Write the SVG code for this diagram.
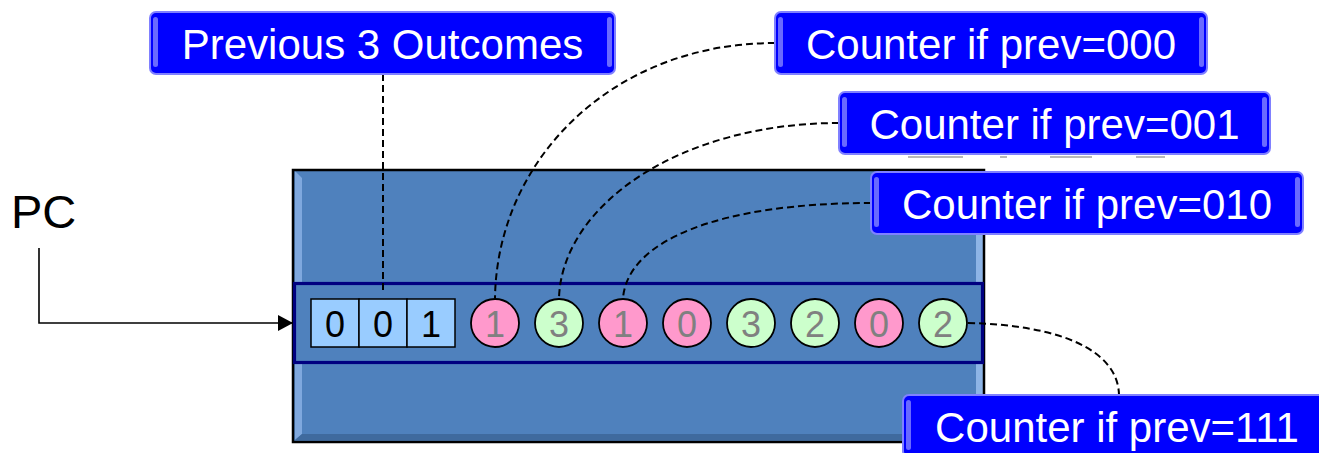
<svg xmlns="http://www.w3.org/2000/svg" width="1319" height="453" viewBox="0 0 1319 453">
  <style>
    .lbl rect.bg { fill: #0000FF; stroke: #8080FF; stroke-width: 2; }
    .lbl rect.hl { fill: #6A6AFF; }
    .lbl text { font-family: "Liberation Sans", Arial, sans-serif; font-size: 42px; fill: #FFFFFF; text-anchor: middle; }
    .bit rect { fill: #99CCFF; stroke: #000000; stroke-width: 1.5; }
    .bit text { font-family: "Liberation Sans", Arial, sans-serif; font-size: 36px; fill: #000000; text-anchor: middle; }
    .ctr circle { stroke: #000000; stroke-width: 1.8; }
    .ctr text { font-family: "Liberation Sans", Arial, sans-serif; font-size: 36px; fill: #808080; text-anchor: middle; }
    .t { fill: #FF99CC; }
    .n { fill: #CCFFCC; }
    .dash { fill: none; stroke: #000000; stroke-width: 2; stroke-dasharray: 7 4; }
  </style>
  <defs>
    <marker id="arr" markerWidth="16" markerHeight="16" refX="15" refY="8" orient="auto" markerUnits="userSpaceOnUse">
      <path d="M0,0 L15,8 L0,16 Z" fill="#000000"/>
    </marker>
  </defs>
  <rect width="1319" height="453" fill="#FFFFFF"/>

  <!-- PHT table block -->
  <g id="table">
    <rect x="293" y="170" width="691" height="272" fill="#4F81BD"/>
    <polygon points="295,171 302,178 302,434 295,440" fill="#7FA8DE"/>
    <polygon points="983,171 976,178 976,434 983,440" fill="#8DB4E6"/>
    <polygon points="295,440 302,434 976,434 983,440" fill="#3F6A9E"/>
    <rect x="293" y="170" width="691" height="272" fill="none" stroke="#000000" stroke-width="2.5"/>
  </g>
  <g id="row">
    <rect x="294.5" y="283.5" width="688" height="79" fill="#4F81BD" stroke="#000080" stroke-width="3.2"/>
  </g>

  <!-- history bits -->
  <g id="history" class="bit">
    <rect x="311" y="299" width="48" height="48"/>
    <rect x="359" y="299" width="48" height="48"/>
    <rect x="407" y="299" width="48" height="48"/>
    <text x="335" y="337">0</text>
    <text x="383" y="337">0</text>
    <text x="431" y="337">1</text>
  </g>

  <!-- counters -->
  <g id="c0" class="ctr"><circle class="t" cx="495" cy="323" r="24"/><text x="495" y="337">1</text></g>
  <g id="c1" class="ctr"><circle class="n" cx="559" cy="323" r="24"/><text x="559" y="337">3</text></g>
  <g id="c2" class="ctr"><circle class="t" cx="623" cy="323" r="24"/><text x="623" y="337">1</text></g>
  <g id="c3" class="ctr"><circle class="t" cx="687" cy="323" r="24"/><text x="687" y="337">0</text></g>
  <g id="c4" class="ctr"><circle class="n" cx="751" cy="323" r="24"/><text x="751" y="337">3</text></g>
  <g id="c5" class="ctr"><circle class="n" cx="815" cy="323" r="24"/><text x="815" y="337">2</text></g>
  <g id="c6" class="ctr"><circle class="t" cx="879" cy="323" r="24"/><text x="879" y="337">0</text></g>
  <g id="c7" class="ctr"><circle class="n" cx="943" cy="323" r="24"/><text x="943" y="337">2</text></g>

  <!-- PC -->
  <g id="pc">
    <text x="11" y="228" font-family="Liberation Sans, Arial, sans-serif" font-size="47" fill="#000000">PC</text>
  </g>

  <!-- connectors -->
  <g id="connectors">
    <path d="M39,248 V323 H293" fill="none" stroke="#000000" stroke-width="1.6" marker-end="url(#arr)"/>
    <path class="dash" d="M383,74 V293"/>
    <path class="dash" d="M775,43 C612,43 497,160 495,298"/>
    <path class="dash" d="M839,123 C680,123 562,205 559,298"/>
    <path class="dash" d="M871,203 C720,203 628,240 623,298"/>
    <path class="dash" d="M968,323 C1060,325 1118,350 1119,395"/>
  </g>

  <!-- labels -->
  <g id="lbl-prev" class="lbl">
    <rect class="bg" x="150" y="12" width="465" height="62" rx="6"/>
    <rect class="hl" x="153" y="17" width="5" height="50" rx="2.5"/>
    <rect class="hl" x="607" y="17" width="5" height="50" rx="2.5"/>
    <text x="382.5" y="59">Previous 3 Outcomes</text>
  </g>
  <g id="lbl-000" class="lbl">
    <rect class="bg" x="775" y="12" width="432" height="62" rx="6"/>
    <rect class="hl" x="778" y="17" width="5" height="50" rx="2.5"/>
    <rect class="hl" x="1199" y="17" width="5" height="50" rx="2.5"/>
    <text x="991" y="59">Counter if prev=000</text>
  </g>
  <g id="lbl-001" class="lbl">
    <g stroke="#B8B8B8" stroke-width="2">
      <line x1="908" y1="157" x2="963" y2="157"/>
      <line x1="1000" y1="157" x2="1007" y2="157"/>
      <line x1="1050" y1="157" x2="1092" y2="157"/>
      <line x1="1136" y1="157" x2="1165" y2="157"/>
    </g>
    <rect class="bg" x="839" y="92" width="431" height="62" rx="6"/>
    <rect class="hl" x="842" y="97" width="5" height="50" rx="2.5"/>
    <rect class="hl" x="1262" y="97" width="5" height="50" rx="2.5"/>
    <text x="1054.5" y="139">Counter if prev=001</text>
  </g>
  <g id="lbl-010" class="lbl">
    <rect class="bg" x="871" y="172" width="432" height="62" rx="6"/>
    <rect class="hl" x="874" y="177" width="5" height="50" rx="2.5"/>
    <rect class="hl" x="1295" y="177" width="5" height="50" rx="2.5"/>
    <text x="1087" y="219">Counter if prev=010</text>
  </g>
  <g id="lbl-111" class="lbl">
    <rect class="bg" x="903" y="395" width="432" height="62" rx="6"/>
    <rect class="hl" x="906" y="400" width="5" height="50" rx="2.5"/>
    <text x="1117" y="442">Counter if prev=111</text>
  </g>
</svg>
